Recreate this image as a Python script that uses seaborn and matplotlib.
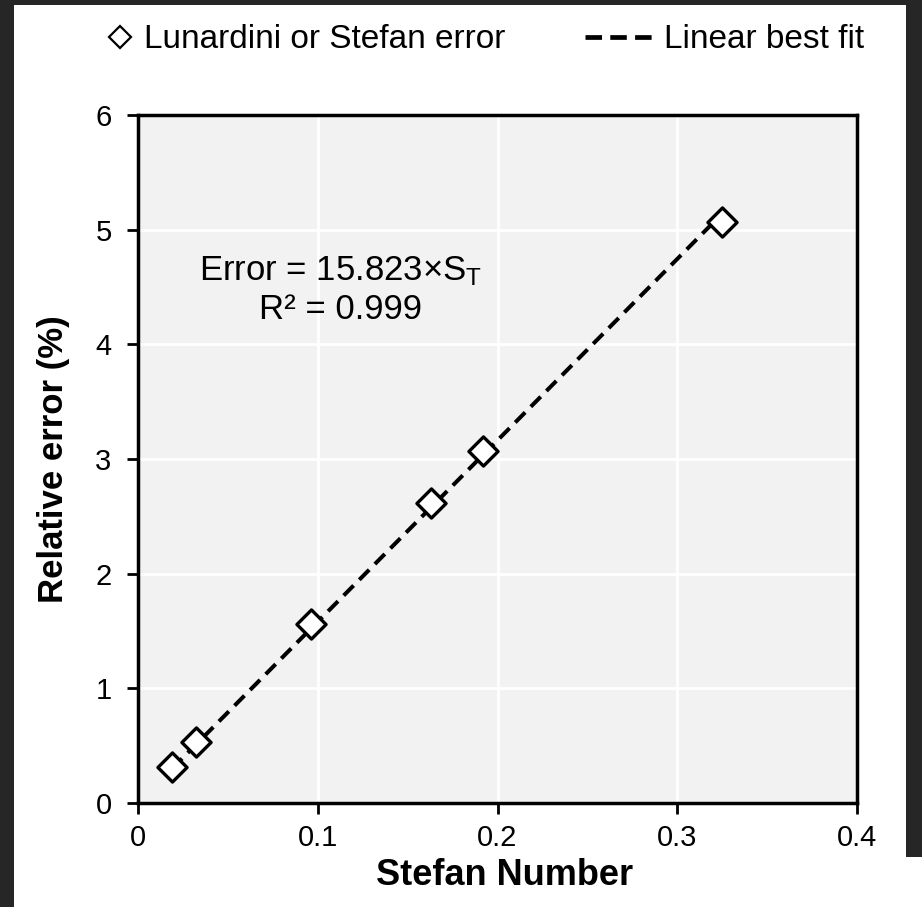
import numpy as np
import pandas as pd
import matplotlib
matplotlib.use("Agg")
import matplotlib.pyplot as plt
from matplotlib.lines import Line2D
from matplotlib.patches import Rectangle
import seaborn as sns

# ── Data ───────────────────────────────────────────────────────────────────────
STEFAN_NUMBER = [0.019, 0.032, 0.096, 0.163, 0.192, 0.325]
REL_ERROR     = [0.31, 0.53, 1.56, 2.62, 3.07, 5.07]
FIT_X = [0.019, 0.325]
FIT_Y = [0.30, 5.14]
X_TICKS = [0, 0.1, 0.2, 0.3, 0.4]
X_LABELS = ["0", "0.1", "0.2", "0.3", "0.4"]
Y_TICKS = [0, 1, 2, 3, 4, 5, 6]

# ── Style ──────────────────────────────────────────────────────────────────────
sns.set_theme(style="whitegrid")
plt.rcParams["font.family"] = ["Liberation Sans", "DejaVu Sans"]
plt.rcParams["mathtext.fontset"] = "custom"
plt.rcParams["mathtext.rm"] = "Liberation Sans"
plt.rcParams["mathtext.it"] = "Liberation Sans:italic"

df = pd.DataFrame({"st": STEFAN_NUMBER, "err": REL_ERROR})
fit = pd.DataFrame({"st": FIT_X, "err": FIT_Y})

W, H = 922, 907
fig = plt.figure(figsize=(W / 100, H / 100), dpi=100, facecolor="#262626")
# white page with dark viewer edges
fig.patches.append(Rectangle((14 / W, 0), (906 - 14) / W, (H - 5) / H,
                             transform=fig.transFigure, facecolor="white",
                             edgecolor="none", zorder=-10))
fig.patches.append(Rectangle((906 / W, 0), 16 / W, 50 / H,
                             transform=fig.transFigure, facecolor="white",
                             edgecolor="none", zorder=-10))

ax = fig.add_axes([138 / W, (H - 803) / H, (857 - 138) / W, (803 - 115) / H])
ax.set_facecolor("#f2f2f2")

sns.lineplot(data=fit, x="st", y="err", ax=ax, color="black", linewidth=2.9,
             zorder=2)
ax.lines[-1].set_dashes([3.5, 2.0])
sns.scatterplot(data=df, x="st", y="err", ax=ax, marker="D", s=220,
                facecolor="white", edgecolor="black", linewidth=2.4, zorder=3)

ax.set_xlim(0, 0.4)
ax.set_ylim(0, 6)
ax.set_xticks(X_TICKS)
ax.set_xticklabels(X_LABELS)
ax.set_yticks(Y_TICKS)
ax.grid(True, color="white", linewidth=2)
ax.set_axisbelow(True)
for side in ["left", "right", "top", "bottom"]:
    ax.spines[side].set_color("black")
    ax.spines[side].set_linewidth(2.5)
ax.tick_params(axis="both", which="major", direction="out", length=8, width=2,
               color="black", labelcolor="black", labelsize=21,
               left=True, bottom=True)
ax.tick_params(axis="x", pad=7)
ax.tick_params(axis="y", pad=11)

ax.set_xlabel("Stefan Number", fontsize=26, fontweight="bold", color="black")
ax.xaxis.set_label_coords(0.51, -0.106)
ax.xaxis.label.set_va("center")
ax.set_ylabel("Relative error (%)", fontsize=25, fontweight="bold",
              color="black", labelpad=18)

ax.text(0.1125, 4.47, "Error = 15.823×S$_\\mathrm{T}$\nR² = 0.999",
        ha="center", va="center", fontsize=25, color="black", linespacing=1.2)

# legend: two pieces so each handle gets its own length
h_pt = Line2D([], [], marker="D", linestyle="none", markerfacecolor="white",
              markeredgecolor="black", markersize=11, markeredgewidth=1.6)
h_fit = Line2D([], [], color="black", linestyle=(0, (3.5, 1.75)), linewidth=3.4)
leg_font = {"size": 24}
leg1 = fig.legend([h_pt], ["Lunardini or Stefan error"], loc="center left",
                  bbox_to_anchor=(112 / W, 1 - 40 / H), frameon=False,
                  prop=leg_font, handlelength=0.48, handletextpad=0.48,
                  borderpad=0, borderaxespad=0)
leg2 = fig.legend([h_fit], ["Linear best fit"], loc="center left",
                  bbox_to_anchor=(585 / W, 1 - 40 / H), frameon=False,
                  prop=leg_font, handlelength=2.04, handletextpad=0.33,
                  borderpad=0, borderaxespad=0)
for leg in (leg1, leg2):
    for t in leg.get_texts():
        t.set_color("black")

fig.savefig("out.png", dpi=100, facecolor=fig.get_facecolor())
